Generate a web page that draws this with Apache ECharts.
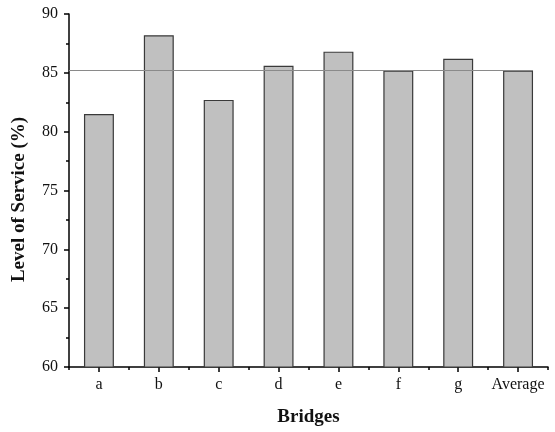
<!DOCTYPE html>
<html><head><meta charset="utf-8">
<script src="https://cdn.jsdelivr.net/npm/echarts@6/dist/echarts.min.js"></script>
<style>html,body{margin:0;padding:0;background:#fff}#c{width:555px;height:432px}</style>
</head><body><div id="c"></div>
<script>
var categories = ['a','b','c','d','e','f','g','Average'];
var serviceLevel = [81.5, 88.2, 82.7, 85.6, 86.8, 85.2, 86.2, 85.2];
var averageLevel = 85.2;
var yTicks = [60, 65, 70, 75, 80, 85, 90];

var font = 'Liberation Serif';
var chart = echarts.init(document.getElementById('c'), null, {renderer:'canvas'});
chart.setOption({
  animation: false,
  backgroundColor: '#fff',
  grid: {left: 69, right: 7, top: 14, bottom: 61, containLabel: false},
  xAxis: [{
    type: 'category', data: categories,
    axisLine: {onZero: false, lineStyle: {color: '#000', width: 1.5}},
    axisTick: {show: true, alignWithLabel: false, length: 3, inside: false, lineStyle: {color: '#000', width: 1.5}},
    axisLabel: {interval: 0, color: '#111', fontFamily: font, fontSize: 16, margin: 10},
    name: 'Bridges', nameLocation: 'middle', nameGap: 41,
    nameTextStyle: {fontFamily: font, fontSize: 19, fontWeight: 'bold', color: '#111'}
  }, {
    type: 'category', data: categories, position: 'bottom',
    axisLine: {show: false, onZero: false},
    axisTick: {show: true, interval: 0, alignWithLabel: true, length: 5, lineStyle: {color: '#000', width: 1.5}},
    axisLabel: {show: false}
  }, {
    type: 'value', min: -0.5, max: 7.5, show: false, axisLine: {onZero: false}
  }],
  yAxis: {
    type: 'value', min: yTicks[0], max: yTicks[yTicks.length-1], interval: yTicks[1]-yTicks[0],
    axisLine: {show: true, onZero: false, lineStyle: {color: '#000', width: 1.5}},
    axisTick: {show: true, length: 5, lineStyle: {color: '#000', width: 1.5}},
    minorTick: {show: true, splitNumber: 2, length: 3, lineStyle: {color: '#000', width: 1.5}},
    splitLine: {show: false},
    axisLabel: {color: '#111', fontFamily: font, fontSize: 16, margin: 11},
    name: 'Level of Service (%)', nameLocation: 'middle', nameGap: 40,
    nameTextStyle: {fontFamily: font, fontSize: 19, fontWeight: 'bold', color: '#111', padding: [0, 18, 0, 0]}
  },
  series: [{
    type: 'bar', data: serviceLevel, xAxisIndex: 0, barWidth: '50%',
    itemStyle: {color: '#c0c0c0', borderColor: '#3a3a3a', borderWidth: 1.2}
  }, {
    type: 'line', xAxisIndex: 2, symbol: 'none', z: 5,
    data: [[-0.5, averageLevel], [categories.length - 1 + 0.25, averageLevel]],
    lineStyle: {color: '#8a8a8a', width: 1.2}
  }]
});
</script></body></html>
